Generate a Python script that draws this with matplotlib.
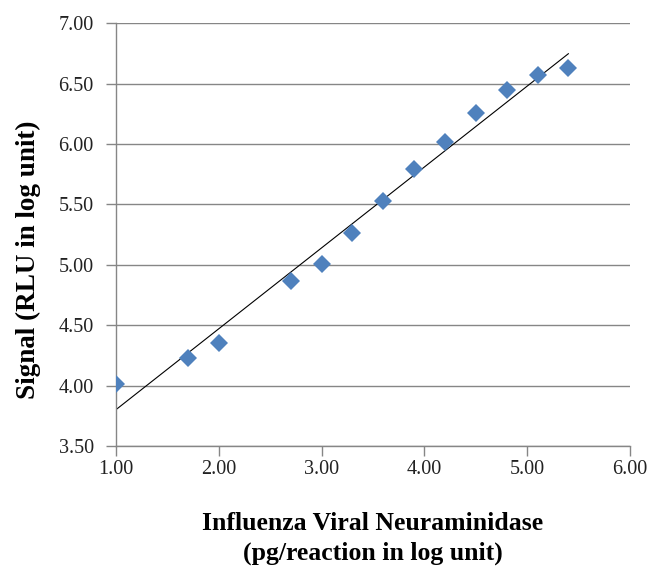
import numpy as np
import matplotlib
matplotlib.use("Agg")
import matplotlib.pyplot as plt

# ---------------- dados ----------------
conc_log = [1.0, 1.7, 2.0, 2.7, 3.0, 3.3, 3.6, 3.9, 4.2, 4.5, 4.8, 5.1, 5.4]
sinal_log = [4.01, 4.23, 4.35, 4.87, 5.01, 5.26, 5.53, 5.79, 6.02, 6.26, 6.45, 6.57, 6.63]
xticks = [1.0, 2.0, 3.0, 4.0, 5.0, 6.0]
yticks = [3.5, 4.0, 4.5, 5.0, 5.5, 6.0, 6.5, 7.0]
xlabel = "Influenza Viral Neuraminidase\n(pg/reaction in log unit)"
ylabel = "Signal (RLU in log unit)"
# ----------------------------------------------------------

plt.rcParams["font.family"] = ["Liberation Serif", "DejaVu Serif"]
cinza = "#868686"

fig = plt.figure(figsize=(6.52, 5.74), dpi=100)
ax = fig.add_axes([0.1779, 0.2230, 0.7884, 0.7364])

x = np.array(conc_log)
y = np.array(sinal_log)

# linha de tendência (ajuste linear)
a, b = np.polyfit(x, y, 1)
xl = np.array([x.min(), x.max()])
ax.plot(xl, a * xl + b, color="black", lw=0.8, zorder=2)

ax.plot(x, y, linestyle="none", marker="D", ms=9.5, color="#4F81BD",
        markeredgewidth=0, zorder=3)

ax.set_xlim(1.0, 6.0)
ax.set_ylim(3.5, 7.0)
ax.set_xticks(xticks)
ax.set_yticks(yticks)
ax.set_xticklabels([f"{v:.2f}" for v in xticks])
ax.set_yticklabels([f"{v:.2f}" for v in yticks])

ax.yaxis.grid(True, color=cinza, lw=1.0)
ax.set_axisbelow(True)
for s in ["top", "right"]:
    ax.spines[s].set_visible(False)
for s in ["left", "bottom"]:
    ax.spines[s].set_color(cinza)
    ax.spines[s].set_linewidth(1.0)

ax.tick_params(axis="both", direction="out", length=7, width=1.0, color=cinza,
               labelsize=14.5, labelcolor="#222222")
ax.tick_params(axis="y", pad=9)
ax.tick_params(axis="x", pad=3)

fig.text(373 / 652, 1 - 512 / 574, xlabel, ha="center", va="top",
         fontsize=18.5, fontweight="bold", linespacing=1.35)
fig.text(28 / 652, 1 - 260 / 574, ylabel, ha="center", va="center",
         rotation=90, fontsize=19.5, fontweight="bold")

fig.savefig("out.png", dpi=100)
